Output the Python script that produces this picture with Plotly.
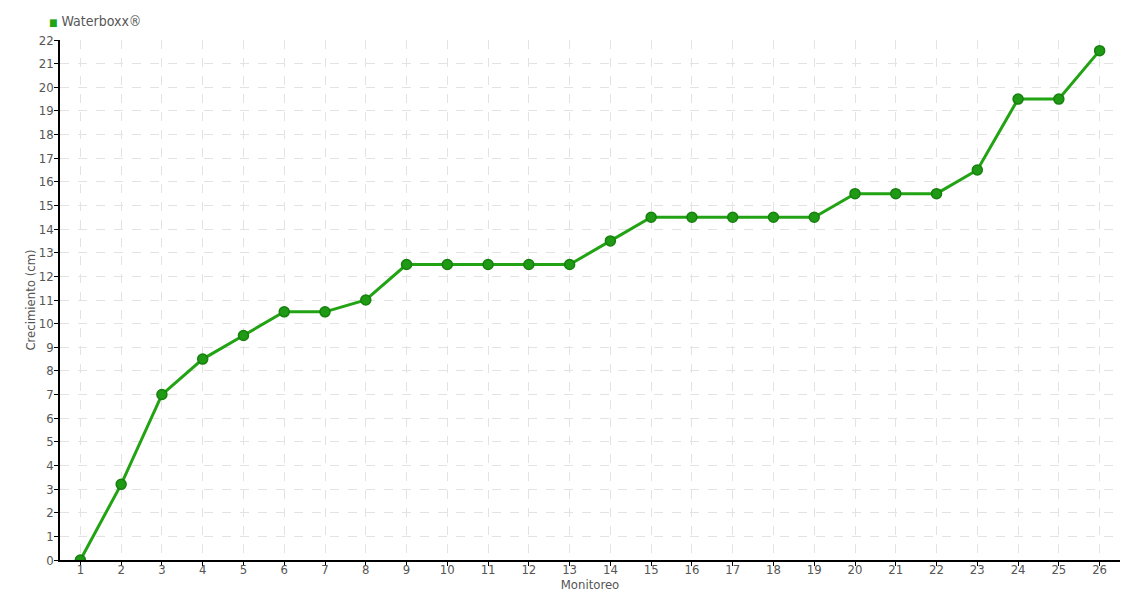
import plotly.graph_objects as go

monitoreo = list(range(1, 27))
crecimiento = [0, 3.2, 7, 8.5, 9.5, 10.5, 10.5, 11, 12.5, 12.5, 12.5, 12.5, 12.5,
               13.5, 14.5, 14.5, 14.5, 14.5, 14.5, 15.5, 15.5, 15.5, 16.5, 19.5, 19.5, 21.55]
serie = "Waterboxx®"

font_fam = "DejaVu Sans Condensed, Roboto Condensed, Roboto, sans-serif"
txt = "#555555"
verde = "#22a314"

fig = go.Figure()
fig.add_trace(go.Scatter(
    x=monitoreo, y=crecimiento, mode="lines+markers", name=serie, showlegend=False,
    line=dict(color=verde, width=3),
    marker=dict(size=10, color="#1f9a14", line=dict(color="#17800f", width=1.5)),
))

fig.add_annotation(
    xref="paper", yref="paper", x=-0.0125, y=1.0365, xanchor="left", yanchor="middle",
    text=f"<span style='color:{verde};font-size:10px'>■</span> {serie}",
    showarrow=False, font=dict(size=14, color=txt),
)

fig.update_layout(
    width=1140, height=600,
    margin=dict(l=60, r=20, t=40, b=40, autoexpand=False),
    plot_bgcolor="white", paper_bgcolor="white",
    font=dict(family=font_fam, color=txt, size=13),
    showlegend=False,
    xaxis=dict(
        range=[0.5, 26.5], tickmode="array", tickvals=monitoreo, automargin=False,
        showline=True, linecolor="black", linewidth=1.5,
        ticks="outside", ticklen=4, tickcolor="black", ticklabelstandoff=-7,
        showgrid=True, gridcolor="#e3e3e3", griddash="dash", gridwidth=1,
        zeroline=False,
        title=dict(text="Monitoreo", standoff=0, font=dict(size=13, color=txt)),
    ),
    yaxis=dict(
        range=[0, 22], dtick=1, automargin=False,
        showline=True, linecolor="black", linewidth=1.5,
        ticks="outside", ticklen=4, tickcolor="black", ticklabelstandoff=-2,
        showgrid=True, gridcolor="#e3e3e3", griddash="dash", gridwidth=1,
        zeroline=False,
        title=dict(text="Crecimiento (cm)", standoff=0, font=dict(size=13, color=txt)),
    ),
)

fig.write_html("out.html", config={"displayModeBar": False},
               post_script="document.body.style.margin='0';document.body.style.overflow='hidden';")
